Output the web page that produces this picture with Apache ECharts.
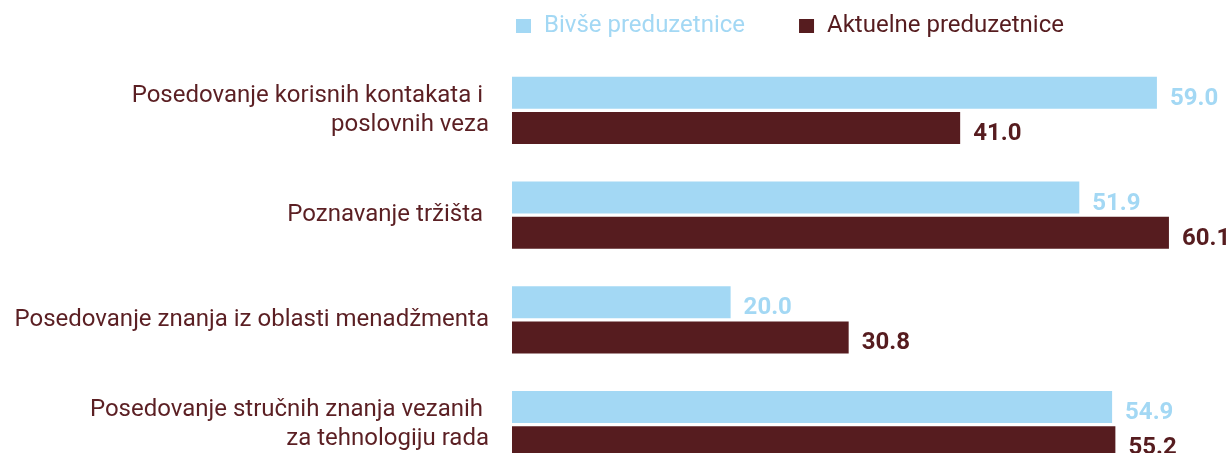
<!DOCTYPE html>
<html>
<head>
<meta charset="utf-8">
<title>Preduzetnice</title>
<script src="https://cdn.jsdelivr.net/npm/echarts@6/dist/echarts.min.js"></script>
<style>
	html, body { margin: 0; padding: 0; background: #fff; }
	#chart { width: 1232px; height: 453px; }
</style>
</head>
<body>
<div id="chart"></div>
<script>
var categories = [
	'Posedovanje korisnih kontakata i \nposlovnih veza',
	'Poznavanje tržišta ',
	'Posedovanje znanja iz oblasti menadžmenta',
	'Posedovanje stručnih znanja vezanih \nza tehnologiju rada'
];
var seriesNames = ['Bivše preduzetnice', 'Aktuelne preduzetnice'];
var formerValues = [59.0, 51.9, 20.0, 54.9];
var currentValues = [41.0, 60.1, 30.8, 55.2];

var lightColor = '#a3d8f4';
var darkColor = '#561c1f';

var myChart = echarts.init(document.getElementById('chart'));

function valueLabel(color){
	return {
		show: true,
		position: 'right',
		distance: 13,
		offset: [0, 6],
		color: color,
		fontFamily: 'Roboto',
		fontWeight: 'bold',
		fontSize: 24,
		formatter: function(p){
			return p.value.toFixed(1);
		}
	};
}

var option = {
	animation: false,
	legend: {
		left: 516,
		top: 14,
		padding: 0,
		itemWidth: 15,
		itemHeight: 14,
		itemGap: 54,
		icon: 'rect',
		data: [
			{name: seriesNames[0], textStyle: {color: lightColor}},
			{name: seriesNames[1], textStyle: {color: darkColor}}
		],
		textStyle: {
			fontFamily: 'Roboto',
			fontSize: 24,
			padding: [0, 0, 0, 8]
		}
	},
	grid: {
		left: 512,
		width: 710.5,
		top: 58,
		height: 419,
		outerBoundsMode: 'none'
	},
	xAxis: {
		type: 'value',
		min: 0,
		max: 65,
		show: false,
		splitLine: {show: false}
	},
	yAxis: {
		type: 'category',
		inverse: true,
		data: categories,
		axisLine: {show: false},
		axisTick: {show: false},
		axisLabel: {
			margin: 23,
			color: '#5b1f23',
			fontFamily: 'Roboto',
			fontSize: 24,
			lineHeight: 29,
			align: 'right'
		}
	},
	series: [
		{
			name: seriesNames[0],
			type: 'bar',
			data: formerValues,
			barWidth: 32,
			barGap: '10%',
			itemStyle: {color: lightColor},
			label: valueLabel(lightColor)
		},
		{
			name: seriesNames[1],
			type: 'bar',
			data: currentValues,
			barWidth: 32,
			barGap: '10%',
			itemStyle: {color: darkColor},
			label: valueLabel(darkColor)
		}
	]
};

myChart.setOption(option);
</script>
</body>
</html>
